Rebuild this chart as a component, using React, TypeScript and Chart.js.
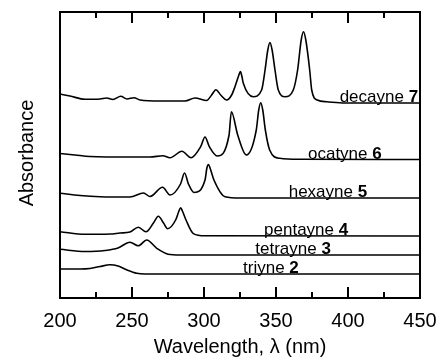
import React, { useEffect, useRef } from "react";
import { Chart, registerables } from "chart.js";

Chart.register(...registerables);

// ---------- data (wavelength in nm, absorbance in arbitrary offset units) ----------
const decayneX = [200, 206.9, 217.4, 227.8, 232.4, 236.8, 242.2, 246.5, 251.4, 255.6, 269.4, 286.8, 293.75, 301.9, 305.3, 308.3, 311.6, 315.8, 319.2, 321.5, 324.0, 325.3, 326.4, 327.3, 334.2, 340.0, 342.4, 344.3, 345.8, 347.3, 349.3, 351.6, 356.25, 362.0, 365.0, 367.5, 369.1, 370.7, 373.4, 374.8, 378.7, 385.2, 397.9, 450];
const decayneY = [204, 202, 198.7, 199, 200, 198.5, 201.7, 199, 200.3, 198, 197, 197, 200, 197.5, 203, 208.3, 203, 198, 203, 211.3, 222, 226.5, 221, 214.7, 201.3, 208, 228, 248, 255.5, 248, 228, 208, 201.3, 208, 228, 258, 266.2, 258, 228, 208, 198, 196.3, 195, 195];

const ocatyneX = [200, 210.4, 220.8, 248.6, 262.5, 271.5, 276.4, 284.7, 291, 297.7, 300.7, 303.7, 309.2, 317.4, 319, 323.4, 329.4, 336.3, 338.0, 339.4, 340.8, 342.6, 345.6, 352.6, 366.7, 450];
const ocatyneY = [144.5, 143, 141.5, 141, 141, 142.2, 140.2, 146.8, 140.2, 151.3, 161, 151.3, 142, 163, 186.3, 163, 143, 168, 188, 195.3, 188, 168, 148, 139.7, 138.7, 138.5];

const hexayneX = [200, 213.9, 227.8, 248.6, 258, 262.5, 271.2, 276.4, 283.7, 286.5, 289.2, 293.1, 300.7, 302.0, 303.1, 304.2, 306.9, 314.6, 325, 450];
const hexayneY = [104.7, 102.5, 101.3, 101, 105, 101.5, 110.7, 103, 114, 125, 114, 105.5, 118, 130, 133.5, 130, 118, 101.3, 100, 100];

const pentayneX = [200, 217.4, 234.7, 241.7, 248.6, 254.4, 259.7, 264.9, 268.3, 271.9, 274.7, 280.3, 282.6, 283.8, 285.0, 287.5, 292.6, 300.7, 450];
const pentayneY = [66.3, 63.7, 64, 65, 66, 70.8, 66.2, 75, 81.8, 75, 69.3, 78, 87, 90.2, 87, 78, 64.4, 62.2, 62];

const tetrayneX = [200, 217.4, 231.3, 240.3, 248.6, 254.4, 260.2, 267.2, 275, 283.3, 450];
const tetrayneY = [48.7, 46.5, 47.5, 50, 55.8, 52.2, 58, 49.7, 43.8, 43, 43];

const triyneX = [200, 213.9, 220.8, 227.8, 234.7, 240.3, 246.5, 253.3, 259, 450];
const triyneY = [29, 29, 29.5, 31.5, 33.2, 32, 28, 24.7, 24, 24];

const seriesNames = ["decayne ", "ocatyne ", "hexayne ", "pentayne ", "tetrayne ", "triyne "];
const seriesNumbers = ["7", "6", "5", "4", "3", "2"];
const xTickLabels = [200, 250, 300, 350, 400, 450];
const xMinorTicks = [225, 275, 325, 375, 425];
const xTitle = "Wavelength, \u03bb (nm)";
const yTitle = "Absorbance";

// label anchors (left edge, in nm)
const labelStart = [394.2, 372.2, 358.8, 341.7, 335.6, 327.1];

const FONT = '"Liberation Sans", Arial, Helvetica, sans-serif';

const seriesXs = [decayneX, ocatyneX, hexayneX, pentayneX, tetrayneX, triyneX];
const seriesYs = [decayneY, ocatyneY, hexayneY, pentayneY, tetrayneY, triyneY];

const decorPlugin = {
  id: "decor",
  afterDraw(chart: any) {
    const ctx = chart.ctx as CanvasRenderingContext2D;
    const area = chart.chartArea;
    const xs = chart.scales.x;
    const ys = chart.scales.y;
    ctx.save();
    ctx.strokeStyle = "#000";
    ctx.fillStyle = "#000";
    // frame
    ctx.lineWidth = 2;
    ctx.strokeRect(area.left, area.top, area.right - area.left, area.bottom - area.top);
    // ticks
    const tick = (v: number, len: number) => {
      const px = Math.round(xs.getPixelForValue(v));
      ctx.beginPath();
      ctx.moveTo(px, area.bottom);
      ctx.lineTo(px, area.bottom - len);
      ctx.moveTo(px, area.top);
      ctx.lineTo(px, area.top + len);
      ctx.stroke();
    };
    xTickLabels.forEach((v) => tick(v, 11));
    xMinorTicks.forEach((v) => tick(v, 6));
    // tick labels
    ctx.font = `20px ${FONT}`;
    ctx.textAlign = "center";
    ctx.textBaseline = "alphabetic";
    xTickLabels.forEach((v) => {
      ctx.fillText(String(v), xs.getPixelForValue(v), 327);
    });
    // x title
    ctx.fillText(xTitle, (area.left + area.right) / 2, 353);
    // y title
    ctx.save();
    ctx.translate(33, (area.top + area.bottom) / 2 - 2);
    ctx.rotate(-Math.PI / 2);
    ctx.fillText(yTitle, 0, 0);
    ctx.restore();
    // curve labels
    ctx.textAlign = "left";
    seriesNames.forEach((name, i) => {
      const ysArr = seriesYs[i];
      const base = ys.getPixelForValue(ysArr[ysArr.length - 1]) - 1;
      const x0 = xs.getPixelForValue(labelStart[i]);
      ctx.font = `17px ${FONT}`;
      ctx.fillText(name, x0, base);
      const w = ctx.measureText(name).width;
      ctx.font = `bold 17px ${FONT}`;
      ctx.fillText(seriesNumbers[i], x0 + w, base);
    });
    ctx.restore();
  },
};

export default function App() {
  const ref = useRef<HTMLCanvasElement | null>(null);
  useEffect(() => {
    if (!ref.current) return;
    const datasets = seriesXs.map((xsArr, i) => ({
      label: seriesNames[i] + seriesNumbers[i],
      data: xsArr.map((x, j) => ({ x, y: seriesYs[i][j] })),
      borderColor: "#000",
      borderWidth: 1.6,
      pointRadius: 0,
      fill: false,
      cubicInterpolationMode: "monotone" as const,
    }));
    const chart = new Chart(ref.current, {
      type: "line",
      data: { datasets },
      options: {
        animation: false,
        responsive: false,
        maintainAspectRatio: false,
        layout: { padding: { left: 60, top: 12, right: 18, bottom: 60 } },
        plugins: { legend: { display: false }, tooltip: { enabled: false } },
        scales: {
          x: { type: "linear", min: 200, max: 450, display: false },
          y: { type: "linear", min: 0, max: 286, display: false },
        },
      },
      plugins: [decorPlugin],
    });
    return () => chart.destroy();
  }, []);
  return (
    <div style={{ position: "fixed", left: 0, top: 0, width: 438, height: 358, background: "#fff" }}>
      <canvas ref={ref} width={438} height={358} style={{ width: 438, height: 358, display: "block" }} />
    </div>
  );
}
